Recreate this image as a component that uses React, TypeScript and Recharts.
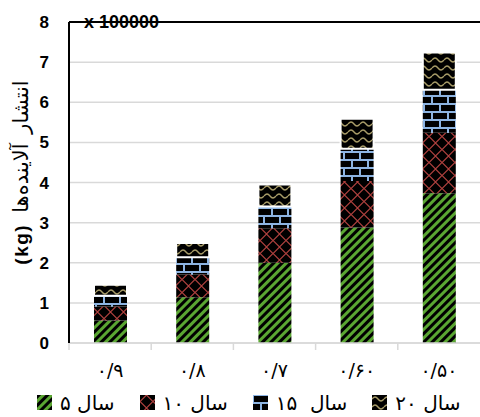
import React from 'react';
import { BarChart, Bar, XAxis, YAxis, CartesianGrid, ReferenceLine, Legend } from 'recharts';

const categories = ['۰/۹', '۰/۸', '۰/۷', '۰/۶۰', '۰/۵۰'];
const years5 = [0.56, 1.14, 2.0, 2.88, 3.73];
const years10 = [0.35, 0.57, 0.86, 1.16, 1.51];
const years15 = [0.27, 0.43, 0.54, 0.8, 1.07];
const years20 = [0.27, 0.35, 0.55, 0.75, 0.93];
const seriesNames = ['۵ سال', '۱۰ سال', '۱۵  سال', '۲۰ سال'];
const yTicks = [0, 1, 2, 3, 4, 5, 6, 7, 8];
const unitLabel = 'x 100000';
const yTitleUnit = '(kg)';
const yTitleText = 'انتشار آلاینده‌ها';

const data = categories.map((c, i) => ({
  name: c,
  s5: years5[i],
  s10: years10[i],
  s15: years15[i],
  s20: years20[i],
}));

const patternIds = ['pGreen', 'pRed', 'pBlue', 'pGold'];
const keys = ['s5', 's10', 's15', 's20'];

const Patterns = () => (
  <svg width={0} height={0} style={{ position: 'absolute' }}>
    <defs>
      <pattern id="pGreen" patternUnits="userSpaceOnUse" width={6} height={6} patternTransform="rotate(45)">
        <rect x={0} y={0} width={6} height={6} fill="#5aa632" />
        <rect x={0} y={0} width={3} height={6} fill="#000" />
      </pattern>
      <pattern id="pRed" patternUnits="userSpaceOnUse" width={13} height={13}>
        <rect x={0} y={0} width={13} height={13} fill="#000" />
        <path d="M0,6.5 L6.5,0 L13,6.5 L6.5,13 Z" fill="none" stroke="#b0413e" strokeWidth={1.1} />
      </pattern>
      <pattern id="pBlue" patternUnits="userSpaceOnUse" width={16} height={16}>
        <rect x={0} y={0} width={16} height={16} fill="#8db4e2" />
        <rect x={1} y={1} width={14} height={6} fill="#000" />
        <rect x={9} y={9} width={14} height={6} fill="#000" />
        <rect x={-7} y={9} width={14} height={6} fill="#000" />
      </pattern>
      <pattern id="pGold" patternUnits="userSpaceOnUse" width={12} height={8}>
        <rect x={0} y={0} width={12} height={8} fill="#000" />
        <path d="M0,4 Q3,0 6,4 T12,4" fill="none" stroke="#a89c68" strokeWidth={1.3} />
      </pattern>
    </defs>
  </svg>
);

const XTick = (props: any) => {
  const { x, y, payload } = props;
  const off = payload && typeof payload.offset === 'number' ? payload.offset : 0;
  const bx = x - off;
  return (
    <g>
      <line x1={bx} x2={bx} y1={y} y2={y + 7} stroke="#d9d9d9" strokeWidth={1.5} />
      <text
        x={x}
        y={y + 27}
        textAnchor="middle"
        dominantBaseline="central"
        fontFamily="DejaVu Sans"
        fontSize={19}
        fill="#000"
      >
        {payload.value}
      </text>
    </g>
  );
};

const YTitle = (props: any) => {
  const vb = props.viewBox || { x: 0, y: 0, width: 0, height: 0 };
  const cx = vb.x + 21;
  const cy = vb.y + vb.height / 2 - 10;
  return (
    <text
      x={cx}
      y={cy}
      transform={`rotate(-90 ${cx} ${cy})`}
      textAnchor="middle"
      dominantBaseline="central"
      fill="#000"
    >
      <tspan fontFamily="Liberation Sans" fontWeight="bold" fontSize={19} letterSpacing={1.5}>
        {yTitleUnit}
      </tspan>
      <tspan fontFamily="DejaVu Sans" fontSize={21} dx={11} wordSpacing={3}>
        {yTitleText}
      </tspan>
    </text>
  );
};

const LegendContent = () => (
  <div
    style={{
      display: 'flex',
      alignItems: 'center',
      height: 29,
      paddingLeft: 37,
      gap: 25,
      fontFamily: 'DejaVu Sans',
      fontSize: 20,
      color: '#000',
    }}
  >
    {seriesNames.map((n, i) => (
      <div key={n} style={{ display: 'flex', alignItems: 'center' }}>
        <svg width={15} height={15} style={{ marginRight: 8 }}>
          <rect x={0} y={0} width={15} height={15} fill={`url(#${patternIds[i]})`} />
        </svg>
        <span style={{ whiteSpace: 'pre', lineHeight: '20px' }}>{n}</span>
      </div>
    ))}
  </div>
);

export default function App() {
  return (
    <div style={{ position: 'absolute', left: 0, top: 0, width: 480, height: 417, background: '#fff' }}>
      <Patterns />
      <BarChart
        width={480}
        height={417}
        data={data}
        margin={{ top: 22, right: 0, left: 0, bottom: 0 }}
        barSize={33}
      >
        <CartesianGrid vertical={false} stroke="#d9d9d9" strokeWidth={1.5} />
        <XAxis
          dataKey="name"
          interval={0}
          height={45}
          axisLine={{ stroke: '#d9d9d9', strokeWidth: 1.5 }}
          tickLine={false}
          tickSize={0}
          tickMargin={0}
          tick={<XTick />}
        />
        <YAxis
          width={69}
          domain={[0, 8]}
          ticks={yTicks}
          interval={0}
          axisLine={{ stroke: '#000', strokeWidth: 2 }}
          tickLine={false}
          tickSize={0}
          tickMargin={20}
          tick={{ fill: '#000', fontFamily: 'Liberation Sans', fontWeight: 'bold', fontSize: 17 }}
          label={<YTitle />}
        />
        {keys.map((k, i) => (
          <Bar
            key={k}
            dataKey={k}
            stackId="a"
            fill={`url(#${patternIds[i]})`}
            stroke={i === 3 ? '#fff' : 'none'}
            strokeWidth={i === 3 ? 2 : 0}
            isAnimationActive={false}
          />
        ))}
        <ReferenceLine
          y={8}
          stroke="#000"
          strokeWidth={2}
          label={{
            value: unitLabel,
            position: 'insideLeft',
            offset: 15,
            fill: '#000',
            fontFamily: 'Liberation Sans',
            fontWeight: 'bold',
            fontSize: 18,
          }}
        />
        <Legend verticalAlign="bottom" content={<LegendContent />} wrapperStyle={{ height: 29 }} />
      </BarChart>
    </div>
  );
}
